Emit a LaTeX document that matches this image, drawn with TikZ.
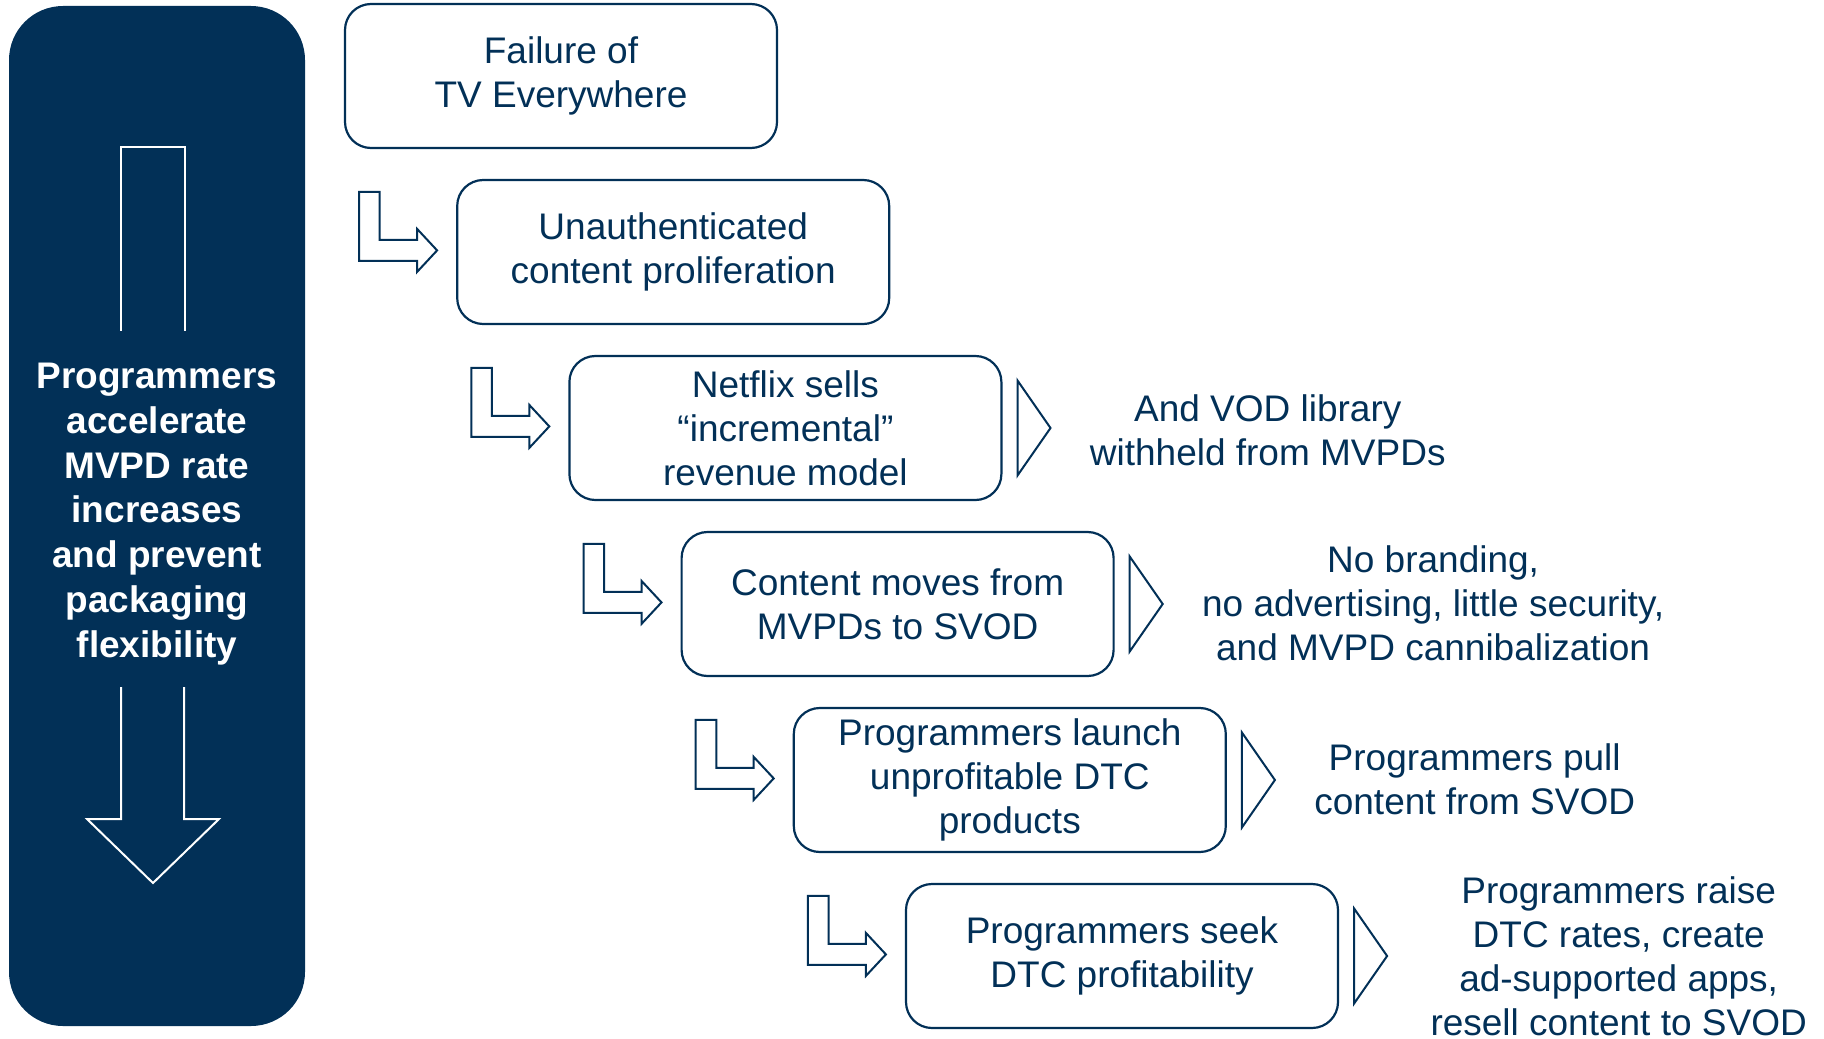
\documentclass[tikz,border=0pt]{standalone}
\usepackage{fontspec}
\setmainfont{Liberation Sans}
\usetikzlibrary{calc}
\definecolor{navy}{RGB}{2,48,87}
\begin{document}
\begin{tikzpicture}[x=0.5pt,y=-0.5pt,
  box/.style={draw=navy, line width=1.1pt, rounded corners=13pt, minimum width=216pt, minimum height=72pt, align=center, text=navy, font=\fontsize{18.5}{22}\selectfont, inner sep=0pt},
  side/.style={anchor=west, align=center, text=navy, font=\fontsize{18.5}{22}\selectfont, inner sep=0pt},
  outl/.style={draw=navy, line width=1pt, line join=miter, fill=white},
  pics/bent/.style={code={\draw[outl] (0,0) -- (20.6,0) -- (20.6,48) -- (58,48) -- (58,37) -- (78,58.5) -- (58,80) -- (58,69) -- (0,69) -- cycle;}},
  pics/tri/.style={code={\draw[outl] (15,-47.5) -- (48,0) -- (15,47.5) -- cycle;}}
]
\useasboundingbox (0,0) rectangle (1824,1038);

% left panel
\node[fill=navy, rounded corners=27pt, minimum width=148pt, minimum height=510pt, inner sep=0pt] (panel) at (157,516) {};
\draw[white, line width=1pt, line join=miter] (121,331) -- (121,147) -- (185,147) -- (185,331);
\node[fill=navy, minimum width=140pt, minimum height=178pt, inner sep=0pt] (cover) at (157,509) {};
\node[text=white, font=\bfseries\fontsize{18.5}{22.4}\selectfont, align=center, inner sep=0pt] (ptext) at (157,514) {Programmers\\accelerate\\MVPD rate\\increases\\and prevent\\packaging\\flexibility};
\draw[white, line width=1pt, line join=miter] (121,687) -- (121,819) -- (87,819) -- (153,883) -- (219,819) -- (184,819) -- (184,687);

% boxes
\node[box] (b1) at (561,76) {Failure of\\TV Everywhere};
\node[box] (b2) at (673.2,252) {Unauthenticated\\content proliferation};
\node[box] (b3) at (785.4,428) {Netflix sells\\“incremental”\\revenue model};
\node[box] (b4) at (897.6,604) {Content moves from\\MVPDs to SVOD};
\node[box] (b5) at (1009.8,780) {Programmers launch\\unprofitable DTC\\products};
\node[box] (b6) at (1122,956) {Programmers seek\\DTC profitability};

% bent arrows
\foreach \n in {2,...,6}{
  \pic at ($(b\n.north west)+(-97,13)$) {bent};
}

% triangles
\foreach \n in {3,...,6}{
  \pic at (b\n.east) {tri};
}

% side texts
\node[side] (s3) at ($(b3.east)+(87,2)$) {And VOD library\\withheld from MVPDs};
\node[side] (s4) at ($(b4.east)+(87,-1)$) {No branding,\\no advertising, little security,\\and MVPD cannibalization};
\node[side] (s5) at ($(b5.east)+(87,-1)$) {Programmers pull\\content from SVOD};
\node[side] (s6) at ($(b6.east)+(91,0)$) {Programmers raise\\DTC rates, create\\ad-supported apps,\\resell content to SVOD};
\end{tikzpicture}
\end{document}
